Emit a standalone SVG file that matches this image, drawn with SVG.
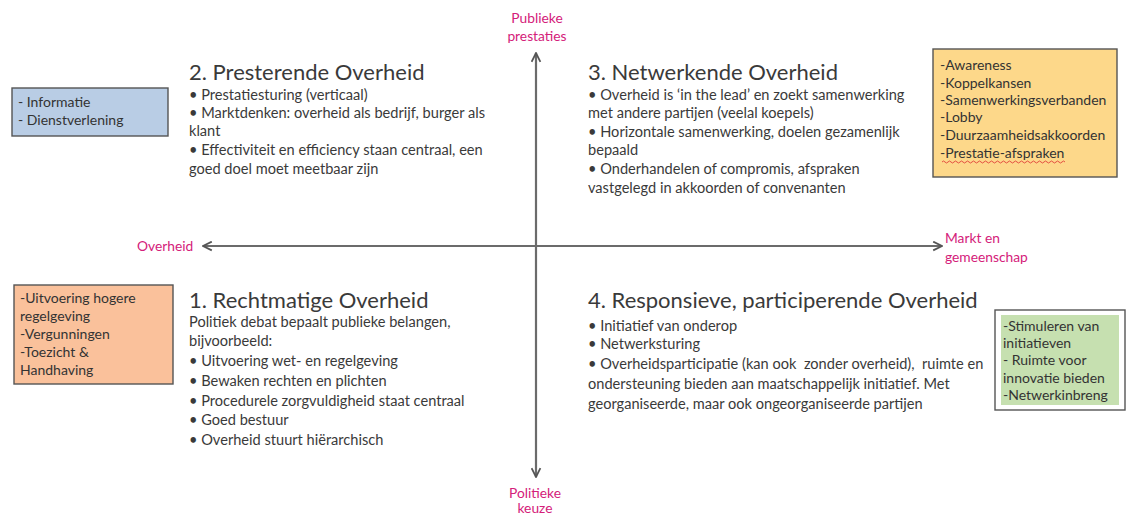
<svg xmlns="http://www.w3.org/2000/svg" width="1130" height="515" viewBox="0 0 1130 515">
<style>
text{font-family:Lato,"Liberation Sans",sans-serif;fill:#3a3a3a}
.t{font-size:22px}
.b{font-size:14.6px}
.s{font-size:14px;fill:#333}
.p{font-size:13.8px;fill:#d4207a}
.ax{stroke:#6b6b6b;stroke-width:2.2;fill:none}
.box{stroke:#555;stroke-width:1.4}
</style>
<defs>
<marker id="ah" viewBox="0 0 10 10" refX="9" refY="5" markerWidth="5" markerHeight="5" orient="auto-start-reverse" markerUnits="strokeWidth">
<path d="M1,1 L9,5 L1,9" fill="none" stroke="#555" stroke-width="1.6"/>
</marker>
</defs>
<rect width="1130" height="515" fill="#fff"/>
<g id="connectors">
<line class="ax" x1="536" y1="477" x2="536" y2="53" marker-end="url(#ah)" marker-start="url(#ah)"/>
<line class="ax" x1="203" y1="246" x2="942" y2="246" marker-end="url(#ah)" marker-start="url(#ah)"/>
</g>
<g id="axis-labels">
<text class="p" x="537" y="23" text-anchor="middle">Publieke</text>
<text class="p" x="537" y="41" text-anchor="middle">prestaties</text>
<text class="p" x="137" y="251">Overheid</text>
<text class="p" x="945" y="243">Markt en</text>
<text class="p" x="945" y="262">gemeenschap</text>
<text class="p" x="535" y="498" text-anchor="middle">Politieke</text>
<text class="p" x="535" y="513" text-anchor="middle">keuze</text>
</g>
<g id="q2">
<text class="t" x="189" y="80">2. Presterende Overheid</text>
<text class="b" x="189" y="100">• Prestatiesturing (verticaal)</text>
<text class="b" x="189" y="118">• Marktdenken: overheid als bedrijf, burger als</text>
<text class="b" x="189" y="136">klant</text>
<text class="b" x="189" y="155">• Effectiviteit en efficiency staan centraal, een</text>
<text class="b" x="189" y="174">goed doel moet meetbaar zijn</text>
</g>
<g id="box-blue">
<rect class="box" x="12" y="88" width="156" height="48" fill="#b9cde5"/>
<text class="s" x="18" y="107">- Informatie</text>
<text class="s" x="18" y="125">- Dienstverlening</text>
</g>
<g id="q3">
<text class="t" x="588" y="80">3. Netwerkende Overheid</text>
<text class="b" x="588" y="100">• Overheid is ‘in the lead’ en zoekt samenwerking</text>
<text class="b" x="588" y="118">met andere partijen (veelal koepels)</text>
<text class="b" x="588" y="137">• Horizontale samenwerking, doelen gezamenlijk</text>
<text class="b" x="588" y="155">bepaald</text>
<text class="b" x="588" y="174">• Onderhandelen of compromis, afspraken</text>
<text class="b" x="588" y="193">vastgelegd in akkoorden of convenanten</text>
</g>
<g id="box-yellow">
<rect class="box" x="933" y="49" width="184" height="128" fill="#fdd88a"/>
<text class="s" x="940" y="70">-Awareness</text>
<text class="s" x="940" y="88">-Koppelkansen</text>
<text class="s" x="940" y="105">-Samenwerkingsverbanden</text>
<text class="s" x="940" y="122">-Lobby</text>
<text class="s" x="940" y="140">-Duurzaamheidsakkoorden</text>
<text class="s" x="940" y="158">-Prestatie-afspraken</text>
<path d="M942,162 q1.5,-2 3,0 t3,0 t3,0 t3,0 t3,0 t3,0 t3,0 t3,0 t3,0 t3,0 t3,0 t3,0 t3,0 t3,0 t3,0 t3,0 t3,0 t3,0 t3,0 t3,0 t3,0 t3,0 t3,0 t3,0 t3,0 t3,0 t3,0 t3,0 t3,0 t3,0 t3,0 t3,0 t3,0 t3,0 t3,0 t3,0 t3,0 t3,0 t3,0 t3,0 t3,0" fill="none" stroke="#e0403a" stroke-width="0.9"/>
</g>
<g id="q1">
<text class="t" x="189" y="308">1. Rechtmatige Overheid</text>
<text class="b" x="189" y="327">Politiek debat bepaalt publieke belangen,</text>
<text class="b" x="189" y="346">bijvoorbeeld:</text>
<text class="b" x="189" y="366">• Uitvoering wet- en regelgeving</text>
<text class="b" x="189" y="386">• Bewaken rechten en plichten</text>
<text class="b" x="189" y="406">• Procedurele zorgvuldigheid staat centraal</text>
<text class="b" x="189" y="425">• Goed bestuur</text>
<text class="b" x="189" y="445">• Overheid stuurt hiërarchisch</text>
</g>
<g id="box-orange">
<rect class="box" x="14" y="285" width="159" height="99" fill="#fac19b"/>
<text class="s" x="20" y="303">-Uitvoering hogere</text>
<text class="s" x="20" y="321">regelgeving</text>
<text class="s" x="20" y="339">-Vergunningen</text>
<text class="s" x="20" y="357">-Toezicht &amp;</text>
<text class="s" x="20" y="375">Handhaving</text>
</g>
<g id="q4">
<text class="t" x="588" y="308">4. Responsieve, participerende Overheid</text>
<text class="b" x="588" y="331">• Initiatief van onderop</text>
<text class="b" x="588" y="349">• Netwerksturing</text>
<text class="b" x="588" y="369" xml:space="preserve">• Overheidsparticipatie (kan ook  zonder overheid),  ruimte en</text>
<text class="b" x="588" y="389">ondersteuning bieden aan maatschappelijk initiatief. Met</text>
<text class="b" x="588" y="409">georganiseerde, maar ook ongeorganiseerde partijen</text>
</g>
<g id="box-green">
<rect class="box" x="995" y="310" width="130" height="100" fill="#fff"/>
<rect x="1001" y="315" width="118" height="90" fill="#c6e0b0"/>
<text class="s" x="1003" y="331">-Stimuleren van</text>
<text class="s" x="1003" y="348">initiatieven</text>
<text class="s" x="1003" y="365">- Ruimte voor</text>
<text class="s" x="1003" y="383">innovatie bieden</text>
<text class="s" x="1003" y="400">-Netwerkinbreng</text>
</g>
</svg>
